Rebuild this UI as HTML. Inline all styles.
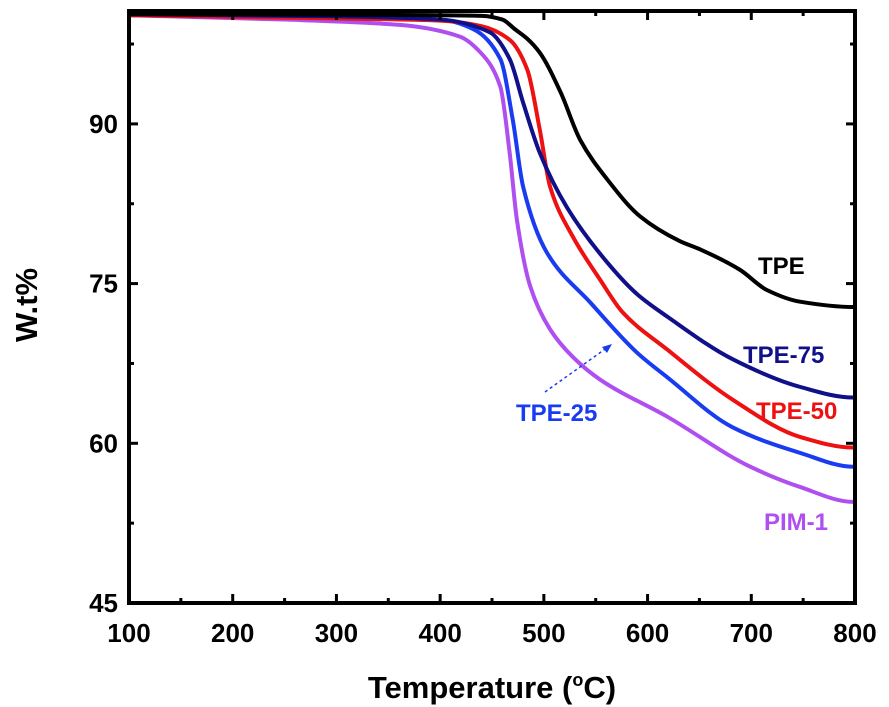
<!DOCTYPE html>
<html><head><meta charset="utf-8"><style>
body{margin:0;background:#fff;}
svg{display:block;font-family:"Liberation Sans",Arial,sans-serif;font-weight:bold;}
</style></head><body>
<div style="position:relative;width:889px;height:707px">
<svg id="chart" width="889" height="707" viewBox="0 0 889 707" style="position:absolute;left:0;top:0">
<g id="marks"></g>
<g id="axes"></g>
<text x="492" y="698" text-anchor="middle" font-size="31">Temperature (<tspan font-size="18" dy="-12">o</tspan><tspan dy="12">C)</tspan></text>
<text transform="translate(37,305) rotate(-90)" text-anchor="middle" font-size="31">W.t%</text>
<text x="758" y="274" font-size="24" fill="#000">TPE</text>
<text x="743" y="363" font-size="24" fill="#10108a">TPE-75</text>
<text x="756" y="419" font-size="24" fill="#ee1111">TPE-50</text>
<text x="516" y="421" font-size="24" fill="#1a3cf0">TPE-25</text>
<text x="764" y="530" font-size="24" fill="#b04ff0">PIM-1</text>
<line x1="545" y1="392" x2="608" y2="347" stroke="#1a3cf0" stroke-width="1.5" stroke-dasharray="3,3"/>
<polygon points="612,344 602,347 607,353" fill="#1a3cf0"/>
</svg>
</div>
<script>
const seriesNames=["TPE","TPE-75","TPE-50","TPE-25","PIM-1"];
const seriesColors=["#000000","#10108a","#ee1111","#1a3cf0","#b04ff0"];
const tpeT=[100,300,440,460,472,484,496,516,535,561,593,631,651,689,715,747,798,800];
const tpeW=[100.3,100.25,100.15,99.8,98.9,98.0,96.7,93.0,88.5,84.8,81.3,79.0,78.2,76.3,74.4,73.3,72.8,72.8];
const t75T=[100,300,400,448,467,480,496,522,561,590,619,682,747,798,800];
const t75W=[100.3,100.1,99.8,98.6,96.1,92.0,87.3,82.2,77.0,74.0,71.9,67.9,65.3,64.3,64.3];
const t50T=[100,300,400,439,467,484,496,506,528,554,576,619,682,747,798,800];
const t50W=[100.2,99.9,99.7,99.2,97.9,95.1,89.5,84.1,79.4,75.4,72.3,68.8,64.1,60.6,59.6,59.6];
const t25T=[100,300,400,432,458,470,480,503,545,590,619,682,747,798,800];
const t25W=[100.3,100.0,99.8,98.9,96.1,90.4,84.1,77.9,73.2,68.5,66.2,61.5,59.1,57.8,57.8];
const pimT=[100,250,361,419,439,458,467,474,487,506,528,554,619,699,747,798,800];
const pimW=[100.2,99.8,99.3,98.2,96.7,93.5,87.3,81.0,74.7,70.7,68.1,66.0,62.5,57.8,55.9,54.5,54.5];
const xTicks=[100,200,300,400,500,600,700,800];
const yTicks=[45,60,75,90];
const X0=129,X1=855,Y0=603,Y1=11;
const xs=t=>X0+(t-100)/700*(X1-X0);
const ys=w=>Y0-(w-45)/15*159.7;
const NS="http://www.w3.org/2000/svg";
function mk(tag,attrs,parent,text){const e=document.createElementNS(NS,tag);for(const k in attrs)e.setAttribute(k,attrs[k]);if(text!==undefined)e.textContent=text;parent.appendChild(e);return e;}
const marks=document.getElementById('marks'),axes=document.getElementById('axes');
const allT=[tpeT,t75T,t50T,t25T,pimT],allW=[tpeW,t75W,t50W,t25W,pimW];
function monoPath(px,py){
  const n=px.length,dx=[],m=[],t=new Array(n);
  for(let i=0;i<n-1;i++){dx[i]=px[i+1]-px[i];m[i]=(py[i+1]-py[i])/dx[i];}
  t[0]=m[0];t[n-1]=m[n-2];
  for(let i=1;i<n-1;i++){
    if(m[i-1]*m[i]<=0)t[i]=0;
    else{const w1=2*dx[i]+dx[i-1],w2=dx[i]+2*dx[i-1];t[i]=(w1+w2)/(w1/m[i-1]+w2/m[i]);}
  }
  let d="M"+px[0]+","+py[0];
  for(let i=0;i<n-1;i++){
    const h=dx[i]/3;
    d+=" C"+(px[i]+h)+","+(py[i]+t[i]*h)+" "+(px[i+1]-h)+","+(py[i+1]-t[i+1]*h)+" "+px[i+1]+","+py[i+1];
  }
  return d;
}
[4,3,2,1,0].forEach(i=>{
  const px=allT[i].map(xs),py=allW[i].map(ys);
  const p=mk('path',{d:monoPath(px,py),fill:'none',stroke:seriesColors[i],'stroke-width':4,'stroke-linejoin':'round'},marks);
  
  
});
const fr=mk('rect',{x:X0,y:Y1,width:X1-X0,height:Y0-Y1,fill:'none',stroke:'#000','stroke-width':4},axes);


for(let t=100;t<=800;t+=50){
  const L=(t%100===0)?9:5;const x=xs(t);
  mk('line',{x1:x,x2:x,y1:Y0,y2:Y0-L,stroke:'#000','stroke-width':3},axes);
  mk('line',{x1:x,x2:x,y1:Y1,y2:Y1+L,stroke:'#000','stroke-width':3},axes);
}
for(let w=45;w<=100;w+=7.5){
  const L=((w-45)%15===0)?9:5;const y=ys(w);
  mk('line',{x1:X0,x2:X0+L,y1:y,y2:y,stroke:'#000','stroke-width':3},axes);
  mk('line',{x1:X1,x2:X1-L,y1:y,y2:y,stroke:'#000','stroke-width':3},axes);
}
xTicks.forEach(t=>{
  const e=mk('text',{x:xs(t),y:642,'text-anchor':'middle','font-size':26},axes,String(t));
  
  
});
yTicks.forEach(w=>{
  const e=mk('text',{x:118,y:ys(w)+9,'text-anchor':'end','font-size':26},axes,String(w));
  
  
});
</script>
</body></html>
